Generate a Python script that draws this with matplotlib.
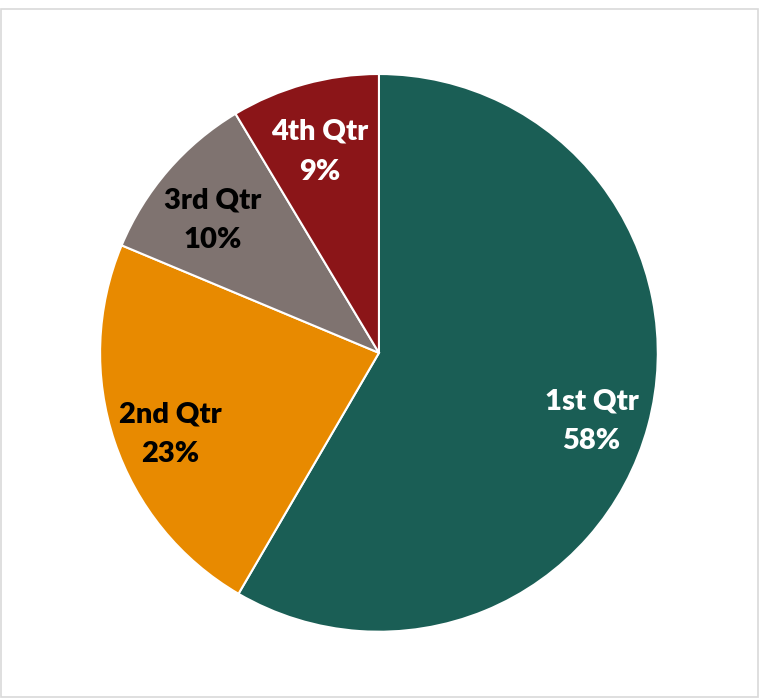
import matplotlib.pyplot as plt
from matplotlib.patches import Rectangle
import numpy as np

quarters = ['1st Qtr', '2nd Qtr', '3rd Qtr', '4th Qtr']
share = [58.4, 22.9, 10.1, 8.6]
colors = ['#1a5e55', '#e88a00', '#7f7370', '#8b1518']
text_colors = ['white', 'black', 'black', 'white']


def main():
    fig = plt.figure(figsize=(7.64, 7.0), dpi=100)
    fig.patches.append(Rectangle((1 / 764, 3 / 700), 757 / 764, 688 / 700,
                                 transform=fig.transFigure, fill=False,
                                 edgecolor='#d9d9d9', linewidth=1.2))

    ax = fig.add_axes([0.496 - 0.365, 0.496 - 0.3986, 0.730, 0.797])
    total = sum(share)
    wedges, _ = ax.pie(share, colors=colors, startangle=90, counterclock=False,
                       wedgeprops=dict(edgecolor='white', linewidth=1.5))

    # labels inside each slice, like excel's best fit
    for w, name, v, tc in zip(wedges, quarters, share, text_colors):
        mid = np.deg2rad((w.theta1 + w.theta2) / 2)
        r = 0.79
        ax.text(r * np.cos(mid), r * np.sin(mid) - 0.04,
                f'{name}\n{round(v / total * 100)}%',
                ha='center', va='center', color=tc, fontsize=21,
                fontweight='heavy', family='Lato', linespacing=1.65)

    ax.set_xlim(-1, 1)
    ax.set_ylim(-1, 1)
    ax.set_aspect('equal')
    ax.axis('off')
    fig.savefig('out.png', dpi=100)


if __name__ == '__main__':
    main()
